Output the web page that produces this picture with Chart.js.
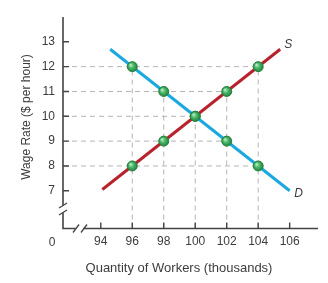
<!DOCTYPE html>
<html><head><meta charset="utf-8">
<script src="https://cdn.jsdelivr.net/npm/chart.js@4/dist/chart.umd.min.js"></script>
<style>html,body{margin:0;padding:0;background:#fff}#wrap{width:328px;height:283px}</style>
</head><body><div id="wrap"><canvas id="c" width="328" height="283"></canvas></div>
<script>
const xTicks = [94, 96, 98, 100, 102, 104, 106];
const yTicks = [7, 8, 9, 10, 11, 12, 13];
const supplyQ = [96, 98, 100, 102, 104];
const supplyW = [8, 9, 10, 11, 12];
const demandQ = [96, 98, 100, 102, 104];
const demandW = [12, 11, 10, 9, 8];
const supplyLineQ = [94.1, 105.4];
const supplyLineW = [7.05, 12.7];
const demandLineQ = [94.6, 106.0];
const demandLineW = [12.7, 7.0];
const xTitle = 'Quantity of Workers (thousands)';
const yTitle = 'Wage Rate ($ per hour)';
const FONT = '"Liberation Sans", Arial, sans-serif';
const TXT = '#3c3c3c';

const X_MIN = 91.6, X_MAX = 107.8, Y_MIN = 5.48, Y_MAX = 14.0;

// guide lines
const allQ = supplyQ.concat(demandQ), allW = supplyW.concat(demandW);
const guides = [];
[...new Set(allW)].forEach(w => {
  let q = Math.max(...allQ.filter((_, i) => allW[i] === w));
  guides.push([{x: X_MIN, y: w}, {x: q, y: w}]);
});
[...new Set(allQ)].forEach(q => {
  let w = Math.max(...allW.filter((_, i) => allQ[i] === q));
  guides.push([{x: q, y: Y_MIN}, {x: q, y: w}]);
});
const guideSets = guides.map(g => ({
  type: 'line', data: g, borderColor: '#b4b4b4', borderWidth: 1, borderDash: [5, 4],
  pointRadius: 0, fill: false, order: 5
}));

function pts(qs, ws) { return qs.map((q, i) => ({x: q, y: ws[i]})); }

function pointGrad(ctx) {
  const ch = ctx.chart;
  if (!ch.chartArea || ctx.type !== 'data') return '#3aa655';
  const px = ch.scales.x.getPixelForValue(ctx.raw.x);
  const py = ch.scales.y.getPixelForValue(ctx.raw.y);
  const g = ch.ctx.createRadialGradient(px - 1.8, py - 1.8, 0.3, px, py, 5.5);
  g.addColorStop(0, '#b9efc4');
  g.addColorStop(0.45, '#48b565');
  g.addColorStop(1, '#1f7d3b');
  return g;
}

const deco = {
  id: 'deco',
  afterDraw(chart) {
    const c = chart.ctx, xs = chart.scales.x, ys = chart.scales.y, a = chart.chartArea;
    c.save();
    c.strokeStyle = '#444'; c.lineWidth = 1.6;
    const L = a.left, B = a.bottom;
    // y axis with break
    c.beginPath();
    c.moveTo(L, a.top); c.lineTo(L, 205.5);
    c.moveTo(L, 212.5); c.lineTo(L, B);
    // x axis with break
    c.moveTo(L - 0.8, B); c.lineTo(75.5, B);
    c.moveTo(83.5, B); c.lineTo(a.right, B);
    c.stroke();
    // break slashes
    c.lineWidth = 1.3;
    c.beginPath();
    c.moveTo(L - 4, 208); c.lineTo(L + 4, 203);
    c.moveTo(L - 4, 215); c.lineTo(L + 4, 210);
    c.moveTo(73, B + 4); c.lineTo(79, B - 4);
    c.moveTo(81, B + 4); c.lineTo(87, B - 4);
    c.stroke();
    // ticks inward
    c.lineWidth = 1.4;
    c.beginPath();
    yTicks.forEach(t => { const y = ys.getPixelForValue(t); c.moveTo(L, y); c.lineTo(L + 6, y); });
    xTicks.forEach(t => { const x = xs.getPixelForValue(t); c.moveTo(x, B); c.lineTo(x, B - 6); });
    c.stroke();
    // text
    c.fillStyle = TXT;
    c.font = '12px ' + FONT;
    c.textAlign = 'center'; c.textBaseline = 'middle';
    c.fillText('0', 52, 242.5);
    c.save();
    c.translate(27, 117); c.rotate(-Math.PI / 2);
    c.fillText(yTitle, 0, 0);
    c.restore();
    c.font = '13px ' + FONT;
    c.fillText(xTitle, 179, 268);
    c.font = 'italic 12px ' + FONT;
    c.fillText('S', xs.getPixelForValue(supplyLineQ[1]) + 8, ys.getPixelForValue(supplyLineW[1]) - 5);
    c.fillText('D', xs.getPixelForValue(demandLineQ[1]) + 9, ys.getPixelForValue(demandLineW[1]) + 3);
    c.restore();
  }
};

new Chart(document.getElementById('c'), {
  type: 'scatter',
  data: {
    datasets: [
      ...guideSets,
      {type: 'line', data: pts(demandLineQ, demandLineW), borderColor: '#1aa9de', borderWidth: 3,
       pointRadius: 0, order: 3, borderCapStyle: 'butt'},
      {type: 'line', data: pts(supplyLineQ, supplyLineW), borderColor: '#b8222d', borderWidth: 3,
       pointRadius: 0, order: 2, borderCapStyle: 'butt'},
      {type: 'scatter', data: pts(supplyQ, supplyW).concat(pts(demandQ, demandW)),
       pointRadius: 5, pointBorderWidth: 1, pointBorderColor: '#24803f',
       pointBackgroundColor: pointGrad, order: 1}
    ]
  },
  options: {
    responsive: false, animation: false, devicePixelRatio: 1,
    layout: {padding: {left: 0, right: 10, top: 17, bottom: 0}},
    plugins: {legend: {display: false}, tooltip: {enabled: false}},
    scales: {
      x: {type: 'linear', min: X_MIN, max: X_MAX,
          afterBuildTicks: s => { s.ticks = xTicks.map(v => ({value: v})); },
          afterFit: s => { s.height = 54.5; },
          grid: {display: false, drawTicks: false}, border: {display: false},
          ticks: {color: TXT, font: {size: 12, family: FONT}, padding: 6, maxRotation: 0, autoSkip: false}},
      y: {type: 'linear', min: Y_MIN, max: Y_MAX,
          afterBuildTicks: s => { s.ticks = yTicks.map(v => ({value: v})); },
          afterFit: s => { s.width = 63; },
          grid: {display: false, drawTicks: false}, border: {display: false},
          ticks: {color: TXT, font: {size: 12, family: FONT}, padding: 8, autoSkip: false}}
    }
  },
  plugins: [deco]
});
</script></body></html>
